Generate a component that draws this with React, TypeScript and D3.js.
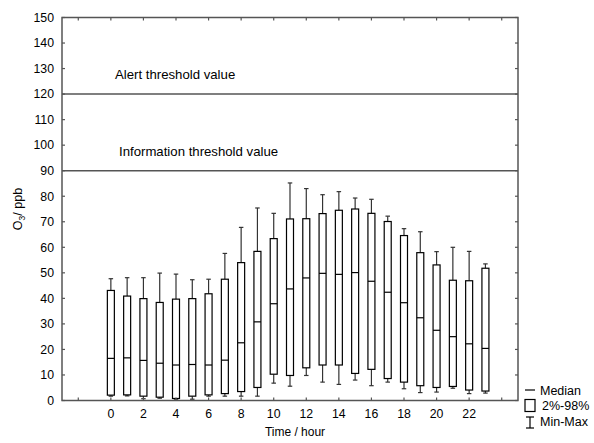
import React from "react";
import * as d3 from "d3";

const hours = [0,1,2,3,4,5,6,7,8,9,10,11,12,13,14,15,16,17,18,19,20,21,22,23];
const maxV = [47.7,48.1,48.1,49.9,49.5,47.3,47.5,57.6,67.8,75.4,73.3,85.2,83.0,80.6,81.8,79.3,78.8,72.2,67.3,66.1,58.3,60.0,58.4,53.5];
const p98 = [43.1,40.9,39.9,38.4,39.7,39.9,41.8,47.5,54.0,58.4,63.4,71.1,71.2,73.2,74.5,75.0,73.3,70.1,64.6,57.9,53.1,47.1,46.9,51.8];
const median = [16.5,16.7,15.7,14.6,13.9,14.1,13.9,15.8,22.6,30.8,37.9,43.7,48.0,49.8,49.4,50.1,46.7,42.4,38.3,32.4,27.5,25.0,22.2,20.4];
const p2 = [2.1,2.2,1.7,1.3,0.8,1.7,2.2,2.7,3.5,5.1,10.3,9.8,12.8,13.9,13.9,10.6,12.2,8.6,7.2,5.8,5.1,5.5,4.1,3.7];
const minV = [1.7,1.8,0.7,0.9,0.5,0.5,1.7,1.7,1.7,1.7,6.8,5.6,9.8,7.2,6.3,8.0,5.8,7.2,4.6,3.1,3.3,4.8,2.7,2.9];

const xTicks = [-2,0,2,4,6,8,10,12,14,16,18,20,22,24];
const xLabels = [0,2,4,6,8,10,12,14,16,18,20,22];
const yTicks = [0,10,20,30,40,50,60,70,80,90,100,110,120,130,140,150];
const thresholds = [
  { value: 120, label: "Alert threshold value", lx: 115 },
  { value: 90, label: "Information threshold value", lx: 119 },
];

export default function App() {
  const W = 594, H = 443;
  const left = 62, right = 518, top = 17.5, bottom = 400.5;
  const x = d3.scaleLinear().domain([-3, 25]).range([left, right]);
  const y = d3.scaleLinear().domain([0, 150]).range([bottom, top]);
  const font = "'Liberation Sans', Arial, sans-serif";
  const axisColor = "#555";
  const bw = 7, cw = 4.5;
  const fs = 12.3;
  return (
    <svg width={W} height={H} style={{ position: "absolute", left: 0, top: 0, background: "#fff" }} fontFamily={font}>
      {thresholds.map((t) => (
        <g key={t.value}>
          <line x1={left} x2={right} y1={y(t.value)} y2={y(t.value)} stroke={axisColor} strokeWidth={1.5} />
          <text x={t.lx} y={y(t.value) - 15} fontSize={13.2} fill="#000">{t.label}</text>
        </g>
      ))}
      {hours.map((h, i) => {
        const cx = x(h);
        return (
          <g key={h}>
            <line x1={cx} x2={cx} y1={y(p98[i])} y2={y(maxV[i])} stroke="#333" strokeWidth={1.2} />
            <line x1={cx - cw / 2} x2={cx + cw / 2} y1={y(maxV[i])} y2={y(maxV[i])} stroke="#333" strokeWidth={1.2} />
            <line x1={cx} x2={cx} y1={y(p2[i])} y2={y(minV[i])} stroke="#333" strokeWidth={1.2} />
            <line x1={cx - cw / 2} x2={cx + cw / 2} y1={y(minV[i])} y2={y(minV[i])} stroke="#333" strokeWidth={1.2} />
            <rect x={cx - bw / 2} y={y(p98[i])} width={bw} height={y(p2[i]) - y(p98[i])} fill="#fff" stroke="#000" strokeWidth={1.2} />
            <line x1={cx - bw / 2} x2={cx + bw / 2} y1={y(median[i])} y2={y(median[i])} stroke="#000" strokeWidth={1.2} />
          </g>
        );
      })}
      <rect x={left} y={top} width={right - left} height={bottom - top} fill="none" stroke={axisColor} strokeWidth={1.5} />
      {xTicks.map((t) => (
        <g key={"xt" + t}>
          <line x1={x(t)} x2={x(t)} y1={bottom} y2={bottom - 3} stroke={axisColor} strokeWidth={1.2} />
          <line x1={x(t)} x2={x(t)} y1={top} y2={top + 3} stroke={axisColor} strokeWidth={1.2} />
        </g>
      ))}
      {yTicks.map((t) => (
        <g key={"yt" + t}>
          <line x1={left} x2={left + 3} y1={y(t)} y2={y(t)} stroke={axisColor} strokeWidth={1.2} />
          <line x1={right} x2={right - 3} y1={y(t)} y2={y(t)} stroke={axisColor} strokeWidth={1.2} />
          <text x={54} y={y(t)} dy="0.35em" textAnchor="end" fontSize={fs} fill="#000">{t}</text>
        </g>
      ))}
      {xLabels.map((t) => (
        <text key={"xl" + t} x={x(t)} y={418} textAnchor="middle" fontSize={fs} fill="#000">{t}</text>
      ))}
      <text x={295} y={436} textAnchor="middle" fontSize={12} fill="#000">Time / hour</text>
      <text transform={`translate(22, ${(top + bottom) / 2}) rotate(-90)`} textAnchor="middle" fontSize={12.5} fill="#000">
        O<tspan fontSize={8.5} dy={3}>3</tspan><tspan dy={-3}>/ ppb</tspan>
      </text>
      <line x1={525} x2={535} y1={390} y2={390} stroke="#000" strokeWidth={1.2} />
      <text x={540} y={394.5} fontSize={12.5} fill="#000">Median</text>
      <rect x={525} y={399.5} width={10} height={12} fill="#fff" stroke="#000" strokeWidth={1.2} />
      <text x={542} y={410} fontSize={12.5} fill="#000">2%-98%</text>
      <line x1={530} x2={530} y1={417} y2={428} stroke="#000" strokeWidth={1.2} />
      <line x1={526} x2={534} y1={417} y2={417} stroke="#000" strokeWidth={1.2} />
      <line x1={526} x2={534} y1={428} y2={428} stroke="#000" strokeWidth={1.2} />
      <text x={540} y={426} fontSize={12.5} fill="#000">Min-Max</text>
    </svg>
  );
}
